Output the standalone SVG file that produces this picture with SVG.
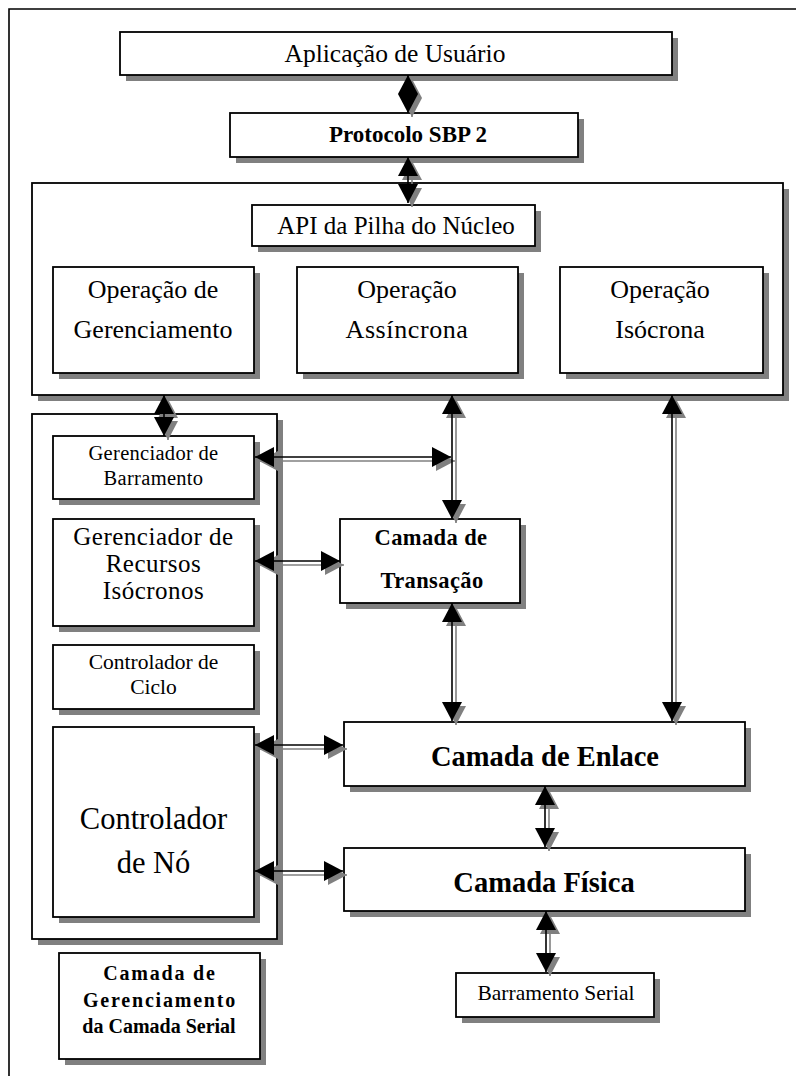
<svg xmlns="http://www.w3.org/2000/svg" width="796" height="1076" viewBox="0 0 796 1076">
<style>
.bg{fill:#fff}
.frame{fill:none;stroke:#000;stroke-width:1.6}
.bx{fill:#fff;stroke:#000;stroke-width:1.8}
.sh{fill:#808080;stroke:none}
.t{font-family:"Liberation Serif","Times New Roman",serif;text-anchor:middle;fill:#000}
.b{font-weight:bold}
.cn{fill:none;stroke:#000;stroke-width:1.6;marker-start:url(#ah);marker-end:url(#ah)}
.cs{fill:none;stroke:#808080;stroke-width:1.6;marker-start:url(#ahs);marker-end:url(#ahs)}
</style>
<defs>
<marker id="ah" viewBox="0 0 19 20" refX="19" refY="10" markerWidth="19" markerHeight="20" markerUnits="userSpaceOnUse" orient="auto-start-reverse"><path d="M0,0 L19,10 L0,20 z" fill="#000"/></marker>
<marker id="ahs" viewBox="0 0 19 20" refX="19" refY="10" markerWidth="19" markerHeight="20" markerUnits="userSpaceOnUse" orient="auto-start-reverse"><path d="M0,0 L19,10 L0,20 z" fill="#808080"/></marker>
</defs>
<rect class="bg" x="0" y="0" width="796" height="1076"/>
<path class="frame" d="M9,1076 V9 H796"/>

<g id="core-stack">
<rect class="sh" x="38" y="189" width="751" height="212"/>
<rect class="bx" x="32" y="183" width="751" height="212"/>
</g>
<g id="serial-mgmt-container">
<rect class="sh" x="38" y="420" width="245" height="525"/>
<rect class="bx" x="32" y="414" width="245" height="525"/>
</g>

<g id="user-app">
<rect class="sh" x="126" y="38" width="552" height="43"/>
<rect class="bx" x="120" y="32" width="552" height="43"/>
<text class="t" x="395" y="62" font-size="25.5">Aplicação de Usuário</text>
</g>
<g id="sbp2">
<rect class="sh" x="236" y="119" width="348" height="44"/>
<rect class="bx" x="230" y="113" width="348" height="44"/>
<text class="t b" x="408" y="142" font-size="23">Protocolo SBP 2</text>
</g>
<g id="core-api">
<rect class="sh" x="258" y="211" width="283" height="41"/>
<rect class="bx" x="252" y="205" width="283" height="41"/>
<text class="t" x="396" y="234" font-size="25">API da Pilha do Núcleo</text>
</g>
<g id="op-mgmt">
<rect class="sh" x="59" y="273" width="201" height="106"/>
<rect class="bx" x="53" y="267" width="201" height="106"/>
<text class="t" x="153" y="298" font-size="26">Operação de</text>
<text class="t" x="153" y="338" font-size="26">Gerenciamento</text>
</g>
<g id="op-async">
<rect class="sh" x="303" y="273" width="221" height="106"/>
<rect class="bx" x="297" y="267" width="221" height="106"/>
<text class="t" x="407" y="298" font-size="26">Operação</text>
<text class="t" x="407" y="338" font-size="26" letter-spacing="0.6">Assíncrona</text>
</g>
<g id="op-iso">
<rect class="sh" x="566" y="273" width="203" height="106"/>
<rect class="bx" x="560" y="267" width="203" height="106"/>
<text class="t" x="660" y="298" font-size="26">Operação</text>
<text class="t" x="660" y="338" font-size="26">Isócrona</text>
</g>
<g id="bus-manager">
<rect class="sh" x="59" y="442" width="201" height="63"/>
<rect class="bx" x="53" y="436" width="201" height="63"/>
<text class="t" x="153.5" y="460" font-size="20.5" letter-spacing="0.3">Gerenciador de</text>
<text class="t" x="153.5" y="485" font-size="20.5" letter-spacing="0.3">Barramento</text>
</g>
<g id="iso-resource-manager">
<rect class="sh" x="59" y="525" width="201" height="107"/>
<rect class="bx" x="53" y="519" width="201" height="107"/>
<text class="t" x="153.5" y="545" font-size="25" letter-spacing="0.5">Gerenciador de</text>
<text class="t" x="153.5" y="572" font-size="25" letter-spacing="0.5">Recursos</text>
<text class="t" x="153.5" y="599" font-size="25" letter-spacing="0.5">Isócronos</text>
</g>
<g id="cycle-controller">
<rect class="sh" x="59" y="651" width="201" height="64"/>
<rect class="bx" x="53" y="645" width="201" height="64"/>
<text class="t" x="153.5" y="669" font-size="21.5">Controlador de</text>
<text class="t" x="153.5" y="694" font-size="21.5">Ciclo</text>
</g>
<g id="node-controller">
<rect class="sh" x="59" y="733" width="201" height="190"/>
<rect class="bx" x="53" y="727" width="201" height="190"/>
<text class="t" x="153.5" y="829" font-size="30.5">Controlador</text>
<text class="t" x="153.5" y="873" font-size="30.5">de Nó</text>
</g>
<g id="transaction-layer">
<rect class="sh" x="346" y="525" width="180" height="84"/>
<rect class="bx" x="340" y="519" width="180" height="84"/>
<text class="t b" x="431" y="545" font-size="22.5" letter-spacing="0.4">Camada de</text>
<text class="t b" x="432" y="588" font-size="22.5" letter-spacing="0.4">Transação</text>
</g>
<g id="link-layer">
<rect class="sh" x="350" y="728" width="401" height="64"/>
<rect class="bx" x="344" y="722" width="401" height="64"/>
<text class="t b" x="545" y="766" font-size="28.5">Camada de Enlace</text>
</g>
<g id="physical-layer">
<rect class="sh" x="350" y="854" width="401" height="63"/>
<rect class="bx" x="344" y="848" width="401" height="63"/>
<text class="t b" x="544" y="892" font-size="28.5">Camada Física</text>
</g>
<g id="serial-bus">
<rect class="sh" x="462" y="979" width="198" height="44"/>
<rect class="bx" x="456" y="973" width="198" height="44"/>
<text class="t" x="556" y="1000" font-size="21.5">Barramento Serial</text>
</g>
<g id="serial-mgmt-layer">
<rect class="sh" x="65" y="959" width="201" height="106"/>
<rect class="bx" x="59" y="953" width="201" height="106"/>
<text class="t b" x="160" y="980" font-size="20" letter-spacing="1.8">Camada de</text>
<text class="t b" x="160" y="1007" font-size="20" letter-spacing="1.8">Gerenciamento</text>
<text class="t b" x="159" y="1033" font-size="20">da Camada Serial</text>
</g>

<g id="connectors">
<g transform="translate(4,4)">
<path class="cs" d="M408,75 V113"/>
<path class="cs" d="M408,157 V203"/>
<path class="cs" d="M164,395 V436"/>
<path class="cs" d="M452,395 V519"/>
<path class="cs" d="M255,457 H451"/>
<path class="cs" d="M255,561 H340"/>
<path class="cs" d="M452,603 V721"/>
<path class="cs" d="M672,395 V721"/>
<path class="cs" d="M255,745 H343"/>
<path class="cs" d="M255,871 H343"/>
<path class="cs" d="M545,786 V847"/>
<path class="cs" d="M546,911 V972"/>
</g>
<path class="cn" d="M408,75 V113"/>
<path class="cn" d="M408,157 V203"/>
<path class="cn" d="M164,395 V436"/>
<path class="cn" d="M452,395 V519"/>
<path class="cn" d="M255,457 H451"/>
<path class="cn" d="M255,561 H340"/>
<path class="cn" d="M452,603 V721"/>
<path class="cn" d="M672,395 V721"/>
<path class="cn" d="M255,745 H343"/>
<path class="cn" d="M255,871 H343"/>
<path class="cn" d="M545,786 V847"/>
<path class="cn" d="M546,911 V972"/>
</g>
</svg>
